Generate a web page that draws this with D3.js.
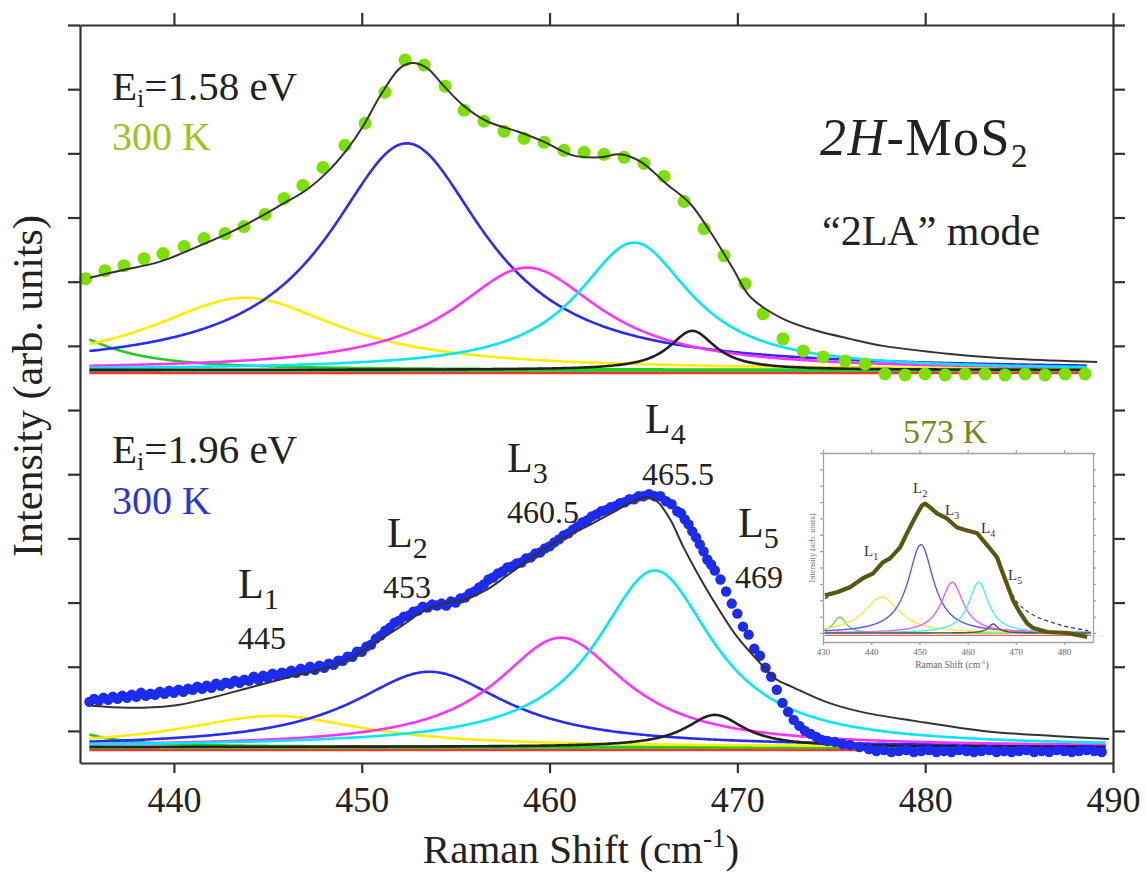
<!DOCTYPE html>
<html>
<head>
<meta charset="utf-8">
<script src="https://cdn.jsdelivr.net/npm/d3@7/dist/d3.min.js"></script>
<style>
html,body{margin:0;padding:0;background:#fff;}
svg{display:block;}
text{font-family:"Liberation Serif","Times New Roman",Times,serif;}
</style>
</head>
<body>
<svg id="chart" width="1146" height="875"></svg>
<script>
// ================= DATA =================
const xTickValues = [440, 450, 460, 470, 480, 490];
const yTickValues = [0, 64, 128, 192, 256, 320, 384, 448, 512, 576, 640, 704];
const insetXTickValues = [430, 440, 450, 460, 470, 480];
const insetYTickValues = [0, 1, 2, 3, 4, 5, 6, 7, 8, 9, 10, 11];

const peakLabels = ["1", "2", "3", "4", "5"];
const peakPositions = ["445", "453", "460.5", "465.5", "469"];
const componentColors = ["#22cc22", "#ffee00", "#2b2bff", "#ff33ff", "#00e8ff", "#222222"];

// Ei = 1.58 eV, 300 K : Lorentzian components (centre, half width, height)
const topCenters = [433.0, 443.8, 452.4, 458.8, 464.5, 467.6];
const topHalfWidths = [3.5, 6.2, 5.1, 4.8, 3.7, 1.5];
const topHeights = [46, 72, 226, 102, 127, 39];
const topBaseline = 360;

// Ei = 1.96 eV, 300 K : Lorentzian components
const botCenters = [433.0, 445.3, 453.6, 460.6, 465.6, 468.8];
const botHalfWidths = [2.5, 6.0, 5.0, 4.2, 3.8, 1.9];
const botHeights = [25, 31, 75, 109, 176, 32];
const botBaseline = -16;

// measured points, Ei = 1.58 eV (shift, intensity)
const topData = [[435.3,451],[436.33,459],[437.34,464],[438.41,471],[439.42,476],[440.54,483],[441.60,491],[442.72,496],
[443.73,503],[444.85,515],[445.86,531],[446.87,544],[447.94,562],[449.11,584],[450.18,606],[451.24,637],[452.31,669],
[453.32,664],[454.44,643],[455.45,619],[456.51,608],[457.58,598],[458.64,591],[459.71,587],[460.77,579],[461.84,577],
[462.90,575],[463.97,572],[465.03,566],[466.10,553],[467.16,528],[468.23,501],[469.29,474],[470.41,446],[471.37,416],
[472.43,391],[473.50,379],[474.56,373],[475.73,369],[476.80,366],[477.86,356],[478.93,355],[479.99,356],[481.06,355],
[482.12,356],[483.19,356],[484.25,355],[485.32,356],[486.38,355],[487.45,356],[488.51,356]];

// fit line, Ei = 1.58 eV
const topFit = [[435.53,452],[437.13,459],[439.26,468],[441.39,484],[443.52,502],[445.65,524],[447.09,540],[448.15,557],
[449.22,580],[450.07,603],[450.97,633],[452.04,661],[452.68,666],[453.48,661],[454.33,644],[455.39,624],[456.67,608],
[458.27,598],[459.65,588],[461.25,574],[462.69,572],[463.75,575],[464.82,568],[466.26,545],[467.48,526],[468.55,498],
[469.77,461],[470.68,433],[472.43,411],[474.24,399],[476.00,391],[477.76,384],[481.33,376],[484.89,371],[489.15,368]];

// measured points, Ei = 1.96 eV (shift, intensity)
const botData = [[435.50,29],[435.75,32],[436.00,30],[436.25,33],[436.50,31],[436.75,34],[437.00,32],[437.25,35],[437.50,33],
[437.75,36],[438.00,34],[438.25,38],[438.50,35],[438.75,37],[439.00,36],[439.25,39],[439.50,37],[439.75,40],[440.00,38],
[440.25,41],[440.50,39],[440.75,42],[441.00,41],[441.25,44],[441.50,42],[441.75,45],[442.00,43],[442.25,47],[442.50,45],
[442.75,48],[443.00,47],[443.25,50],[443.50,48],[443.75,51],[444.00,50],[444.25,54],[444.50,51],[444.75,55],[445.00,53],
[445.25,57],[445.50,55],[445.75,58],[446.00,57],[446.25,60],[446.50,58],[446.75,62],[447.00,60],[447.25,64],[447.50,61],
[447.75,65],[448.00,63],[448.25,67],[448.50,66],[448.75,70],[449.00,70],[449.25,74],[449.50,74],[449.75,79],[450.00,79],
[450.25,84],[450.50,86],[450.75,92],[451.00,95],[451.25,100],[451.50,103],[451.75,108],[452.00,110],[452.25,114],
[452.50,115],[452.75,119],[453.00,120],[453.25,124],[453.50,123],[453.75,126],[454.00,125],[454.25,127],[454.50,125],
[454.75,129],[455.00,128],[455.25,132],[455.50,133],[455.75,137],[456.00,139],[456.25,143],[456.50,146],[456.75,151],
[457.00,153],[457.25,157],[457.50,159],[457.75,163],[458.00,164],[458.25,167],[458.50,168],[458.75,172],[459.00,173],
[459.25,177],[459.50,178],[459.75,182],[460.00,184],[460.25,188],[460.50,191],[460.75,195],[461.00,197],[461.25,201],
[461.50,204],[461.75,208],[462.00,210],[462.25,214],[462.50,216],[462.75,219],[463.00,220],[463.25,223],[463.50,224],
[463.75,227],[464.00,228],[464.25,231],[464.50,231],[464.75,234],[465.00,234],[465.30,236],[465.60,234],[465.90,234],
[466.20,229],[466.50,226],[466.80,219],[467.00,217],[467.20,211],[467.40,206],[467.60,199],[467.80,193],[468.00,186],
[468.20,179],[468.40,171],[468.60,166],[468.80,160],[469.10,151],[469.40,139],[469.70,127],[470.00,117],[470.30,104],
[470.60,96],[470.90,82],[471.20,75],[471.50,63],[471.80,54],[472.10,41],[472.40,28],[472.70,19],[473.00,11],[473.30,5],
[473.60,0],[473.90,-3],[474.20,-6],[474.50,-9],[474.80,-10],[475.20,-11],[475.60,-13],[476.00,-14],[476.50,-16],
[477.00,-18],[477.40,-20],[477.80,-19],[478.20,-21],[478.60,-20],[479.00,-19],[479.40,-21],[479.80,-20],[480.20,-19],
[480.60,-21],[481.00,-20],[481.40,-21],[481.80,-19],[482.20,-20],[482.60,-21],[483.00,-20],[483.40,-19],[483.80,-21],
[484.20,-20],[484.60,-21],[485.00,-20],[485.40,-19],[485.80,-21],[486.20,-20],[486.60,-21],[487.00,-19],[487.40,-20],
[487.80,-21],[488.20,-20],[488.60,-19],[489.00,-20],[489.40,-21]];

// fit line, Ei = 1.96 eV
const botFit = [[435.64,25],[437.50,23],[439.90,25],[441.76,32],[444.00,43],[446.02,53],[448.10,63],[449.48,73],[450.71,88],
[452.15,105],[453.16,118],[454.33,127],[455.61,132],[456.67,141],[457.74,155],[459.12,174],[460.56,191],[462.00,204],
[463.38,218],[464.45,229],[465.19,233],[465.72,229],[466.42,211],[467.11,184],[467.85,158],[468.92,124],[469.98,94],
[471.05,71],[472.11,51],[472.91,44],[474.72,29],[476.59,19],[479.41,10],[483.08,0],[486.81,-5],[489.79,-8]];

// inset, 573 K
const insetCenters = [433.5, 442.2, 450.3, 456.8, 462.3, 465.3];
const insetHalfWidths = [1.6, 4.5, 3.2, 2.8, 2.5, 1.2];
const insetHeights = [0.97, 2.2, 5.4, 3.1, 3.1, 0.55];
const insetData = [[430.4,2.31],[432.9,2.49],[435.6,2.8],[438.3,3.35],[440.4,3.65],[442.4,4.32],[443.9,4.56],[446.0,5.23],
[447.4,6.09],[449.1,7.06],[450.5,7.79],[451.2,7.91],[452.2,7.67],[453.7,7.3],[455.7,7.0],[457.8,6.45],[459.9,6.27],
[462.0,6.09],[463.2,5.66],[464.6,5.17],[466.1,4.63],[467.3,3.65],[468.4,2.8],[469.4,2.01],[470.9,1.22],[472.3,0.61],
[473.6,0.3],[476.5,0.06],[480.6,0],[484.8,-0.24]];
const insetFit = [[430.4,2.1],[433,2.5],[436,2.9],[440,3.6],[443,4.4],[446,5.3],[448.5,6.8],[450.5,7.8],[452,7.7],
[455,7.1],[458,6.4],[462,6.0],[464.5,5.2],[466.5,4.2],[468.5,2.8],[470.5,1.8],[472.5,1.3],[475,0.9],[478,0.6],
[481,0.35],[485,0.15]];

// ================= DRAWING =================
const svg = d3.select("#chart");
const FONT = "Liberation Serif, Times New Roman, serif";
const x = d3.scaleLinear().domain([435, 490]).range([80, 1113]);
const y = d3.scaleLinear().domain([-32, 704]).range([763, 25]);
const lor = (v, c, g, h) => h / (1 + ((v - c) / g) ** 2);

function drawPanel(centers, widths, heights, base, a, b, dots, fit, dotColor, dotR) {
  const g = svg.append("g");
  const xs = d3.range(a, b + 1e-9, 0.1);
  const line = d3.line().x(d => x(d[0])).y(d => y(d[1]));
  g.append("path").datum(xs.map(v => [v, base - 3])).attr("d", line)
    .attr("fill", "none").attr("stroke", "#ff3030").attr("stroke-width", 2.4);
  g.append("path").datum(xs.map(v => [v, base - 1])).attr("d", line)
    .attr("fill", "none").attr("stroke", "#33cc33").attr("stroke-width", 2.2);
  centers.forEach((c, i) => {
    const pts = xs.map(v => [v, base + lor(v, c, widths[i], heights[i])]);
    g.append("path").datum(pts).attr("d", line)
      .attr("fill", "none").attr("stroke", componentColors[i]).attr("stroke-width", 2.6);
  });
  g.selectAll("circle").data(dots).join("circle")
    .attr("cx", d => x(d[0])).attr("cy", d => y(d[1])).attr("r", dotR).attr("fill", dotColor);
  g.append("path").datum(fit).attr("d", d3.line().x(d => x(d[0])).y(d => y(d[1])).curve(d3.curveCatmullRom))
    .attr("fill", "none").attr("stroke", "#333").attr("stroke-width", 2);
}

drawPanel(topCenters, topHalfWidths, topHeights, topBaseline, 435.5, 488.6, topData, topFit, "#7ee000", 6.5);
drawPanel(botCenters, botHalfWidths, botHeights, botBaseline, 435.5, 489.6, botData, botFit, "#1b2bef", 5.2);

// ---------- axes ----------
const axisColor = "#333";
function styleAxis(sel) {
  sel.select(".domain").attr("stroke", axisColor).attr("stroke-width", 2.2);
  sel.selectAll(".tick line").attr("stroke", axisColor).attr("stroke-width", 2.2);
}
svg.append("g").attr("transform", "translate(0,763)")
  .call(d3.axisBottom(x).tickValues(xTickValues).tickSize(10).tickSizeOuter(0).tickFormat(d3.format("d")))
  .call(styleAxis)
  .attr("font-family", FONT).attr("font-size", 36)
  .call(g => g.selectAll("text").attr("y", 49).attr("dy", 0).attr("fill", "#222"));
svg.append("g").attr("transform", "translate(0,25)")
  .call(d3.axisTop(x).tickValues(xTickValues).tickSize(12).tickSizeOuter(0).tickFormat(""))
  .call(styleAxis);
svg.append("g").attr("transform", "translate(80,0)")
  .call(d3.axisLeft(y).tickValues(yTickValues).tickSize(12).tickSizeOuter(0).tickFormat(""))
  .call(styleAxis);
svg.append("g").attr("transform", "translate(1113,0)")
  .call(d3.axisRight(y).tickValues(yTickValues).tickSize(12).tickSizeOuter(0).tickFormat(""))
  .call(styleAxis);

// axis titles
const xt = svg.append("text").attr("x", 581).attr("y", 863).attr("text-anchor", "middle")
  .attr("font-size", 41).attr("fill", "#222");
xt.append("tspan").text("Raman Shift (cm");
xt.append("tspan").attr("font-size", 27).attr("dy", -16).text("-1");
xt.append("tspan").attr("dy", 16).text(")");
svg.append("text").attr("transform", "translate(42,386) rotate(-90)").attr("text-anchor", "middle")
  .attr("font-size", 42).attr("fill", "#222").text("Intensity (arb. units)");

// ---------- annotations ----------
function txt(px, py, size, color) {
  return svg.append("text").attr("x", px).attr("y", py).attr("font-size", size).attr("fill", color);
}
function sub(t, main, s, size, dy) {
  t.append("tspan").text(main);
  t.append("tspan").attr("font-size", size).attr("dy", dy).text(s);
  return t;
}
const e1 = sub(txt(112, 100, 41, "#222"), "E", "i", 26, 7);
e1.append("tspan").attr("dy", -7).text("=1.58 eV");
txt(112, 150, 40, "#9bc41e").text("300 K");
const e2 = sub(txt(112, 463, 41, "#222"), "E", "i", 26, 7);
e2.append("tspan").attr("dy", -7).text("=1.96 eV");
txt(112, 514, 40, "#2a36d8").text("300 K");

const mo = txt(820, 155, 52, "#222").attr("letter-spacing", 1.5);
mo.append("tspan").attr("font-style", "italic").text("2H");
mo.append("tspan").text("-MoS");
mo.append("tspan").attr("font-size", 33).attr("dy", 12).text("2");
txt(822, 245, 42, "#222").text("\u201C2LA\u201D mode");

const labelPos = [[238, 598, 238, 649], [387, 547, 383, 598], [507, 472, 507, 523], [645, 433, 642, 485], [738, 537, 735, 588]];
peakLabels.forEach((s, i) => {
  const p = labelPos[i];
  sub(txt(p[0], p[1], 42, "#222"), "L", s, 30, 11);
  txt(p[2], p[3], 32, "#222").text(peakPositions[i]);
});
txt(903, 443, 34, "#6e8c1e").text("573 K");

// ---------- inset ----------
const ix = d3.scaleLinear().domain([430, 486]).range([823, 1093]);
const iy = d3.scaleLinear().domain([-0.55, 11]).range([642, 453]);
const ig = svg.append("g");
const iline = d3.line().x(d => ix(d[0])).y(d => iy(d[1]));
const ixs = d3.range(430.3, 485.6, 0.1);
const insetColors = ["#55dd55", "#f3ea4a", "#5a5af0", "#f060f0", "#50eaff", "#555555"];
ig.append("path").datum(ixs.map(v => [v, -0.15])).attr("d", iline)
  .attr("fill", "none").attr("stroke", "#f06060").attr("stroke-width", 1.3);
insetCenters.forEach((c, i) => {
  ig.append("path").datum(ixs.map(v => [v, lor(v, c, insetHalfWidths[i], insetHeights[i])])).attr("d", iline)
    .attr("fill", "none").attr("stroke", insetColors[i]).attr("stroke-width", 1.4);
});
ig.append("path").datum(insetFit).attr("d", d3.line().x(d => ix(d[0])).y(d => iy(d[1])).curve(d3.curveCatmullRom))
  .attr("fill", "none").attr("stroke", "#444").attr("stroke-width", 1.3).attr("stroke-dasharray", "4,3");
ig.append("path").datum(insetData).attr("d", iline)
  .attr("fill", "none").attr("stroke", "#585810").attr("stroke-width", 4.2).attr("stroke-linejoin", "round");

function styleInset(sel) {
  sel.select(".domain").attr("stroke", "#a0a0a0").attr("stroke-width", 1.3);
  sel.selectAll(".tick line").attr("stroke", "#a0a0a0").attr("stroke-width", 1.2);
}
ig.append("g").attr("transform", "translate(0,642)")
  .call(d3.axisBottom(ix).tickValues(insetXTickValues).tickSize(3).tickSizeOuter(0).tickFormat(d3.format("d")))
  .call(styleInset).attr("font-family", FONT).attr("font-size", 9)
  .call(g => g.selectAll("text").attr("y", 13).attr("dy", 0).attr("fill", "#666"));
ig.append("g").attr("transform", "translate(0,453)")
  .call(d3.axisTop(ix).tickValues(insetXTickValues).tickSize(3).tickSizeOuter(0).tickFormat(""))
  .call(styleInset);
ig.append("g").attr("transform", "translate(823,0)")
  .call(d3.axisLeft(iy).tickValues(insetYTickValues).tickSize(3).tickSizeOuter(0).tickFormat(""))
  .call(styleInset);
ig.append("g").attr("transform", "translate(1093,0)")
  .call(d3.axisRight(iy).tickValues(insetYTickValues).tickSize(3).tickSizeOuter(0).tickFormat(""))
  .call(styleInset);

const ixt = ig.append("text").attr("x", 952).attr("y", 668).attr("text-anchor", "middle")
  .attr("font-size", 9.5).attr("fill", "#666");
ixt.append("tspan").text("Raman Shift (cm");
ixt.append("tspan").attr("font-size", 6.5).attr("dy", -4).text("-1");
ixt.append("tspan").attr("dy", 4).text(")");
ig.append("text").attr("transform", "translate(815,548) rotate(-90)").attr("text-anchor", "middle")
  .attr("font-size", 8.5).attr("fill", "#777").text("Intensity (arb. units)");

const insetLabelPos = [[864, 556], [913, 493], [945, 515], [981, 533], [1008, 580]];
peakLabels.forEach((s, i) => {
  const t = ig.append("text").attr("x", insetLabelPos[i][0]).attr("y", insetLabelPos[i][1])
    .attr("font-size", 15).attr("fill", "#333");
  t.append("tspan").text("L");
  t.append("tspan").attr("font-size", 10).attr("dy", 4).text(s);
});
</script>
</body>
</html>
